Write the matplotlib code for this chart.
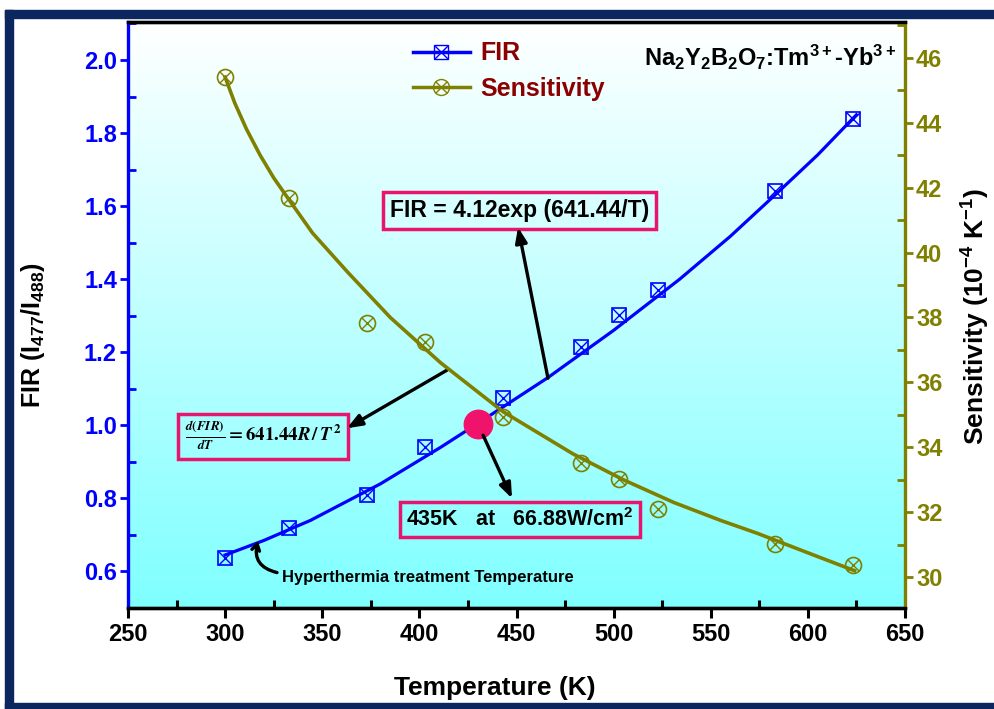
import matplotlib
matplotlib.use("Agg")
import matplotlib.pyplot as plt
import numpy as np
from matplotlib.lines import Line2D
from matplotlib.patches import Rectangle
from matplotlib.ticker import MultipleLocator

# --- data ---
temp = [300, 333, 373, 403, 443, 483, 503, 523, 583, 623]
fir = [0.636, 0.718, 0.81, 0.942, 1.074, 1.214, 1.301, 1.370, 1.641, 1.838]
sens = [45.41, 41.67, 37.82, 37.24, 34.93, 33.51, 33.02, 32.10, 31.02, 30.37]

fir_fit_t = [300, 320, 344, 380, 411, 430, 466, 500, 534, 560, 583, 605, 625]
fir_fit = [0.645, 0.685, 0.74, 0.84, 0.94, 1.005, 1.13, 1.26, 1.40, 1.517, 1.63, 1.74, 1.85]

sens_fit_t = [300, 305, 311, 318, 325, 332, 345, 363, 385, 411, 443, 479, 505, 531, 555,
              574, 600, 624]
sens_fit = [45.4, 44.6, 43.8, 43.0, 42.3, 41.7, 40.6, 39.4, 38.0, 36.6, 35.1, 33.8, 33.0,
            32.3, 31.75, 31.35, 30.75, 30.2]

hyper_t, hyper_fir = 430, 1.005

BLUE = "#0000ff"
OLIVE = "#808000"
DARKRED = "#8b0000"
PINK = "#e8156e"
NAVY = "#0c2660"

plt.rcParams["font.family"] = ["Liberation Sans", "DejaVu Sans"]
plt.rcParams["font.weight"] = "bold"
plt.rcParams["mathtext.fontset"] = "custom"
plt.rcParams["mathtext.rm"] = "Liberation Sans:bold"
plt.rcParams["mathtext.bf"] = "Liberation Sans:bold"
plt.rcParams["mathtext.it"] = "Liberation Sans:bold:italic"

fig = plt.figure(figsize=(9.94, 7.09), dpi=100, facecolor="white")
ax = fig.add_axes([128 / 994, 1 - 608 / 709, 777 / 994, 586 / 709])
ax2 = ax.twinx()

# frame around the picture
fig.add_artist(Rectangle((5 / 994, 1 - 18 / 709), 1, 8 / 709, transform=fig.transFigure,
                         color=NAVY, zorder=-5))
fig.add_artist(Rectangle((5 / 994, 0), 8 / 994, 1 - 10 / 709, transform=fig.transFigure,
                         color=NAVY, zorder=-5))
fig.add_artist(Rectangle((5 / 994, 0), 1, 6 / 709, transform=fig.transFigure,
                         color=NAVY, zorder=-5))

# gradient background white -> cyan
grad = np.linspace(0, 1, 256)[:, None]
img = np.zeros((256, 1, 3))
img[..., 0] = 1 - 0.5 * grad
img[..., 1] = 1
img[..., 2] = 1
ax.imshow(img, extent=[0, 1, 0, 1], transform=ax.transAxes, aspect="auto", zorder=0,
          origin="upper")

ax.set_xlim(250, 650)
ax.set_ylim(0.5, 2.104)
ax2.set_ylim(29.05, 47.1)

# curves
ax.plot(fir_fit_t, fir_fit, color=BLUE, lw=2.3, zorder=3)
ax.plot(temp, fir, ls="none", marker="s", ms=10, mfc="none", mec=BLUE, mew=1.2, zorder=4)
ax.plot(temp, fir, ls="none", marker="x", ms=10, mec=BLUE, mew=1.0, zorder=4)
ax.scatter([hyper_t], [hyper_fir], s=420, color="#f0136c", zorder=6)

ax2.plot(sens_fit_t, sens_fit, color=OLIVE, lw=2.6, zorder=3)
ax2.plot(temp, sens, ls="none", marker="o", ms=11.5, mfc="none", mec=OLIVE, mew=1.2, zorder=4)
ax2.plot(temp, sens, ls="none", marker="x", ms=8, mec=OLIVE, mew=1.0, zorder=4)

# axes styling
for s in ["top", "bottom"]:
    ax.spines[s].set_linewidth(2.4)
    ax2.spines[s].set_linewidth(2.4)
ax.spines["left"].set_color(BLUE)
ax.spines["left"].set_linewidth(2.4)
ax2.spines["left"].set_visible(False)
ax2.spines["right"].set_color(OLIVE)
ax2.spines["right"].set_linewidth(2.4)
ax.spines["right"].set_visible(False)

ax.xaxis.set_major_locator(MultipleLocator(50))
ax.xaxis.set_minor_locator(MultipleLocator(25))
ax.yaxis.set_minor_locator(MultipleLocator(0.1))
ax2.yaxis.set_minor_locator(MultipleLocator(1))

ax.tick_params(axis="x", which="major", direction="out", length=7, width=2.2, pad=4,
               labelsize=17)
ax.tick_params(axis="x", which="minor", direction="in", length=6, width=2.2)
ax.tick_params(axis="y", which="major", direction="out", length=6, width=2, color=BLUE,
               labelcolor=BLUE, labelsize=17, pad=2)
ax.tick_params(axis="y", which="minor", direction="in", length=6, width=2, color=BLUE)
ax2.tick_params(axis="y", which="major", direction="out", length=6, width=2, color=OLIVE,
                labelcolor=OLIVE, labelsize=17, pad=2)
ax2.tick_params(axis="y", which="minor", direction="in", length=6, width=2, color=OLIVE)

fir_ticks = np.arange(0.6, 2.01, 0.2)
ax.set_yticks(fir_ticks)
ax.set_yticklabels([f"{v:.1f}" for v in fir_ticks], fontweight="bold")
sens_ticks = list(range(30, 47, 2))
ax2.set_yticks(sens_ticks)
ax2.set_yticklabels([str(v) for v in sens_ticks], fontweight="bold")
for lab in ax.get_xticklabels():
    lab.set_fontweight("bold")

ax.set_xlabel("Temperature (K)", fontsize=19, fontweight="bold")
ax.set_ylabel(r"FIR (I$_{477}$/I$_{488}$)", fontsize=18, fontweight="bold")
ax2.set_ylabel(r"Sensitivity (10$^{-4}$ K$^{-1}$)", fontsize=19, fontweight="bold")
for lab in (ax.xaxis.label, ax.yaxis.label, ax2.yaxis.label):
    lab.set(ha="center", va="center", rotation_mode="default")
ax.xaxis.set_label_coords((495 - 128) / 777, (608 - 688) / 586)
ax.yaxis.set_label_coords((33 - 128) / 777, (608 - 335) / 586)
ax2.yaxis.set_label_coords((976 - 128) / 777, (608 - 316) / 586)

# legend
h_fir = (Line2D([], [], color=BLUE, lw=2.5, marker="s", ms=10, mfc="none", mec=BLUE),
         Line2D([], [], ls="none", marker="x", ms=10, mec=BLUE))
h_sens = (Line2D([], [], color=OLIVE, lw=2.5, marker="o", ms=11.5, mfc="none", mec=OLIVE),
          Line2D([], [], ls="none", marker="x", ms=8, mec=OLIVE))
leg = ax2.legend([h_fir, h_sens], ["FIR", "Sensitivity"], loc="upper left",
                 bbox_to_anchor=(400 / 994, 1 - 29 / 709), bbox_transform=fig.transFigure,
                 frameon=False, borderpad=0, handlelength=2.3, handletextpad=0.4,
                 labelspacing=0.45, prop={"size": 18, "weight": "bold"})
for t in leg.get_texts():
    t.set_color(DARKRED)

ax.text(0.988, 0.94, r"Na$_2$Y$_2$B$_2$O$_7$:Tm$^{3+}$-Yb$^{3+}$", transform=ax.transAxes,
        ha="right", va="center", fontsize=17, fontweight="bold", color="black")

# annotations
box = dict(boxstyle="square,pad=0.3", fc="none", ec=PINK, lw=2.5)
ax.text(451.8, 1.589, "FIR = 4.12exp (641.44/T)", ha="center", va="center", fontsize=16.5,
        fontweight="bold", bbox=box, zorder=7)
ax.text(451.8, 0.742, "435K   at   66.88W/cm$^2$", ha="center", va="center", fontsize=15.5,
        fontweight="bold", bbox=box, zorder=7)
ax.text(319.5, 0.970, r"$\frac{d(FIR)}{dT}=641.44R\,/\,T^2$", ha="center", va="center",
        fontsize=13.5, fontweight="normal", math_fontfamily="stix",
        bbox=dict(boxstyle="square,pad=0.35", fc="none", ec=PINK, lw=2.5), zorder=7)

arrow = dict(arrowstyle="-|>,head_length=0.9,head_width=0.35", color="black", lw=2.4,
             shrinkA=0, shrinkB=0)
ax.annotate("", xy=(450.8, 1.542), xytext=(466.2, 1.129), arrowprops=arrow, zorder=7)
ax.annotate("", xy=(362.7, 0.992), xytext=(414.2, 1.151), arrowprops=arrow, zorder=7)
ax.annotate("", xy=(447.7, 0.800), xytext=(432.8, 0.973), arrowprops=arrow, zorder=7)
ax.annotate("", xy=(316.9, 0.683), xytext=(326.7, 0.597),
            arrowprops=dict(arrowstyle="->,head_length=0.45,head_width=0.28", color="black",
                            lw=2.4, shrinkA=0, shrinkB=0,
                            connectionstyle="arc3,rad=-0.5"), zorder=7)
ax.text(329.3, 0.584, "Hyperthermia treatment Temperature", ha="left", va="center",
        fontsize=12, fontweight="bold", zorder=7)

fig.savefig("out.png", dpi=100, facecolor="white")
